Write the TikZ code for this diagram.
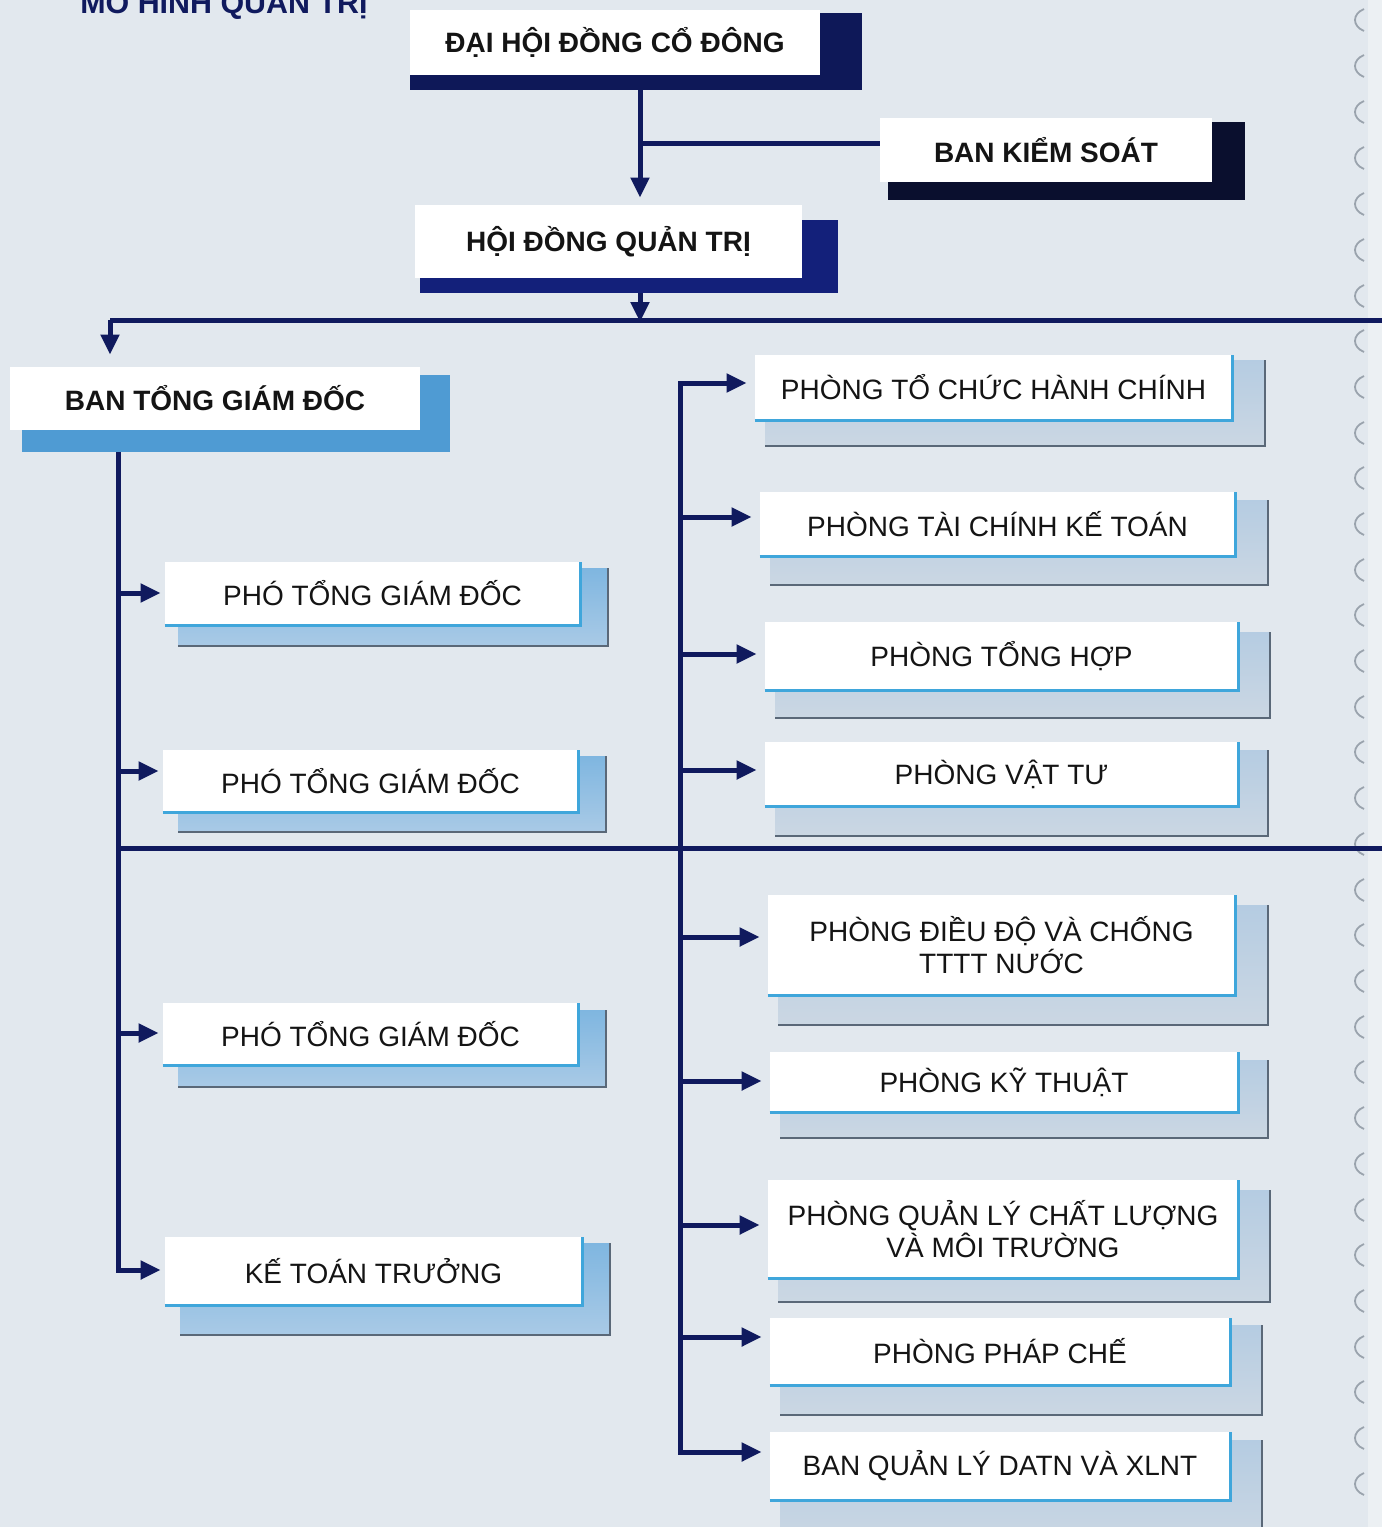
\documentclass[tikz,border=0pt]{standalone}
\usepackage{fontspec}
\setmainfont{Liberation Sans}
\usetikzlibrary{arrows.meta}
\definecolor{navy}{HTML}{101A5E}
\definecolor{shdh}{HTML}{0E1858}
\definecolor{shbk}{HTML}{0A0F2E}
\definecolor{shhd}{HTML}{13207A}
\definecolor{shbt}{HTML}{4F9BD3}
\definecolor{lbtop}{HTML}{7FB6E0}
\definecolor{lbbot}{HTML}{A9CAE6}
\definecolor{rptop}{HTML}{B5CCE2}
\definecolor{rpbot}{HTML}{CBD7E3}
\definecolor{edgeblue}{HTML}{3FA6DB}
\definecolor{edgedark}{HTML}{5A6878}
\definecolor{bgc}{HTML}{E2E8EE}
\definecolor{ringc}{HTML}{9AA3AD}
\newcommand\wb[7]{\node[#6, minimum width={(#4-#2)*0.5pt}, minimum height={(#5-#3)*0.5pt}] (#1) at ({(#2+#4)/2},{(#3+#5)/2}) {#7};}
\newcommand\lsh[5]{\shade[top color=#5top, bottom color=#5bot] (#1,#2) rectangle (#3,#4);
  \draw[edgedark, line width=1pt] (#1,#4) -- (#3,#4) -- (#3,#2);}
\newcommand\bedge[1]{\draw[edgeblue, line width=1.6pt] (#1.south west) -- (#1.south east) -- (#1.north east);}
\begin{document}
\begin{tikzpicture}[x=0.5pt,y=-0.5pt,
  wbox/.style={fill=white, inner sep=0pt, align=center, text=black!92,
    font=\fontsize{14}{16}\selectfont},
  bwbox/.style={wbox, font=\fontsize{14}{16}\selectfont\bfseries},
  conn/.style={draw=navy, line width=2.5pt, line join=miter},
  arr/.style={conn, -{Triangle[length=10pt,width=9pt]}},
  ring/.style={draw=ringc, line width=0.9pt}]
\fill[bgc] (0,0) rectangle (1382,1527);
\useasboundingbox (0,0) rectangle (1382,1527);
\clip (0,0) rectangle (1382,1527);
\fill[white, opacity=0.35] (1368,0) rectangle (1382,1527);
% ring marks on the right edge
\foreach \yy in {20,66,112,158,204,250,296,341,387,433,478,524,570,615,661,707,752,798,844,890,935,981,1027,1072,1118,1164,1210,1255,1301,1347,1392,1438,1484}{
  \draw[ring] (1364,\yy-11) .. controls (1352,\yy-6) and (1352,\yy+6) .. (1364,\yy+11);
}
% title
\node[anchor=base west, inner sep=0pt, text=navy, font=\fontsize{15.2}{18}\selectfont\bfseries] (title) at (80,13) {MÔ HÌNH QUẢN TRỊ};
% top boxes
\fill[shdh] (410,13) rectangle (862,90);
\wb{dh}{410}{10}{820}{75}{bwbox}{ĐẠI HỘI ĐỒNG CỔ ĐÔNG}
\fill[shbk] (888,122) rectangle (1245,200);
\wb{bk}{880}{118}{1212}{182}{bwbox}{BAN KIỂM SOÁT}
\fill[shhd] (420,220) rectangle (838,293);
\wb{hd}{415}{205}{802}{278}{bwbox}{HỘI ĐỒNG QUẢN TRỊ}
\fill[shbt] (22,375) rectangle (450,452);
\wb{bt}{10}{367}{420}{430}{bwbox}{BAN TỔNG GIÁM ĐỐC}
% left column
\lsh{178}{568}{608}{646}{lb}
\wb{p1}{165}{562}{580}{625}{wbox}{PHÓ TỔNG GIÁM ĐỐC}\bedge{p1}
\lsh{178}{756}{606}{832}{lb}
\wb{p2}{163}{750}{578}{812}{wbox}{PHÓ TỔNG GIÁM ĐỐC}\bedge{p2}
\lsh{178}{1010}{606}{1087}{lb}
\wb{p3}{163}{1003}{578}{1065}{wbox}{PHÓ TỔNG GIÁM ĐỐC}\bedge{p3}
\lsh{180}{1243}{610}{1335}{lb}
\wb{kt}{165}{1237}{582}{1305}{wbox}{KẾ TOÁN TRƯỞNG}\bedge{kt}
% right column
\lsh{765}{360}{1265}{446}{rp}
\wb{r1}{755}{355}{1232}{420}{wbox}{PHÒNG TỔ CHỨC HÀNH CHÍNH}\bedge{r1}
\lsh{770}{500}{1268}{585}{rp}
\wb{r2}{760}{492}{1235}{556}{wbox}{PHÒNG TÀI CHÍNH KẾ TOÁN}\bedge{r2}
\lsh{775}{632}{1270}{718}{rp}
\wb{r3}{765}{622}{1238}{690}{wbox}{PHÒNG TỔNG HỢP}\bedge{r3}
\lsh{775}{750}{1268}{836}{rp}
\wb{r4}{765}{742}{1238}{806}{wbox}{PHÒNG VẬT TƯ}\bedge{r4}
\lsh{778}{905}{1268}{1025}{rp}
\wb{r5}{768}{895}{1235}{995}{wbox}{PHÒNG ĐIỀU ĐỘ VÀ CHỐNG\\TTTT NƯỚC}\bedge{r5}
\lsh{780}{1060}{1268}{1138}{rp}
\wb{r6}{770}{1052}{1238}{1112}{wbox}{PHÒNG KỸ THUẬT}\bedge{r6}
\lsh{778}{1190}{1270}{1302}{rp}
\wb{r7}{768}{1180}{1238}{1278}{wbox}{PHÒNG QUẢN LÝ CHẤT LƯỢNG\\VÀ MÔI TRƯỜNG}\bedge{r7}
\lsh{780}{1325}{1262}{1415}{rp}
\wb{r8}{770}{1318}{1230}{1385}{wbox}{PHÒNG PHÁP CHẾ}\bedge{r8}
\lsh{780}{1440}{1262}{1545}{rp}
\wb{r9}{770}{1432}{1230}{1500}{wbox}{BAN QUẢN LÝ DATN VÀ XLNT}\bedge{r9}
% coordinates
\coordinate (dhs) at (640,90);
\coordinate (jbk) at (640,143);
\coordinate (hds) at (640,293);
\coordinate (hbar) at (640,320);
\coordinate (hl) at (110,320);
\coordinate (hr) at (1382,320);
\coordinate (mbl) at (118,848);
\coordinate (mbr) at (1382,848);
\coordinate (lt) at (118,452);
\coordinate (rt) at (680,383);
\coordinate (rb) at (680,1452);
\foreach \n/\yy in {a1/593,a2/771,a3/1033,a4/1270}{\coordinate (\n) at (118,\yy);}
\foreach \n/\yy in {b2/517,b3/654,b4/770,b5/937,b6/1081,b7/1225,b8/1337}{\coordinate (\n) at (680,\yy);}
% connectors
\draw[arr, shorten >=3.5pt] (dhs) -- (hd.north -| dhs);
\draw[conn] (jbk) -- (jbk -| bk.west);
\draw[arr, shorten >=-1pt] (hds) -- (hbar);
\draw[conn] (hr) -- (hl);
\draw[arr, shorten >=6pt] (hl) -- (bt.north -| hl);
\draw[conn] (mbl) -- (mbr);
\draw[conn] (lt) -- (a4);
\draw[arr, shorten >=2pt] (a1) -- (a1 -| p1.west);
\draw[arr, shorten >=2pt] (a2) -- (a2 -| p2.west);
\draw[arr, shorten >=2pt] (a3) -- (a3 -| p3.west);
\draw[arr, shorten >=2pt] (lt) -- (a4) -- (a4 -| kt.west);
\draw[arr, shorten >=4pt] (rb) -- (rt) -- (rt -| r1.west);
\draw[arr, shorten >=4pt] (b2) -- (b2 -| r2.west);
\draw[arr, shorten >=4pt] (b3) -- (b3 -| r3.west);
\draw[arr, shorten >=4pt] (b4) -- (b4 -| r4.west);
\draw[arr, shorten >=4pt] (b5) -- (b5 -| r5.west);
\draw[arr, shorten >=4pt] (b6) -- (b6 -| r6.west);
\draw[arr, shorten >=4pt] (b7) -- (b7 -| r7.west);
\draw[arr, shorten >=4pt] (b8) -- (b8 -| r8.west);
\draw[arr, shorten >=4pt] (rt) -- (rb) -- (rb -| r9.west);
\end{tikzpicture}
\end{document}
